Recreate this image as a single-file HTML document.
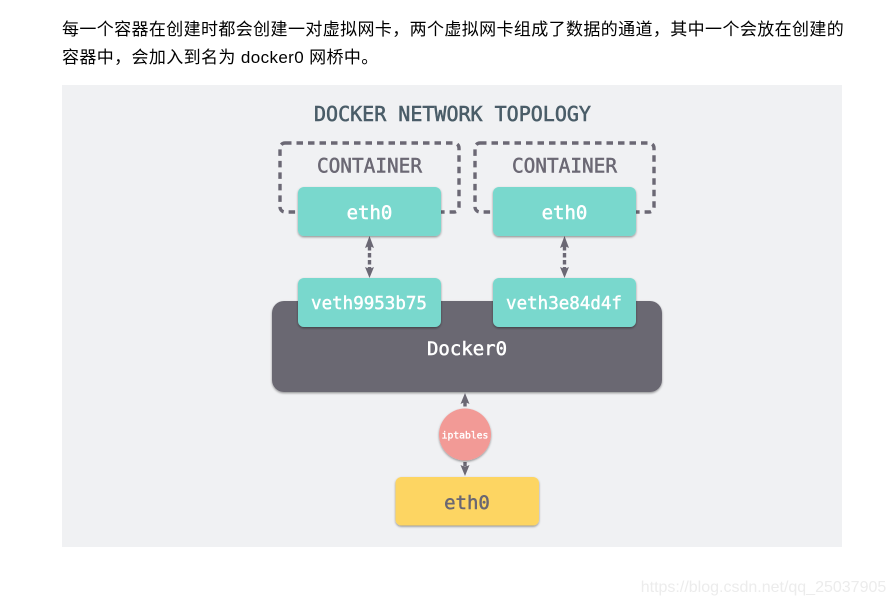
<!DOCTYPE html>
<html><head><meta charset="utf-8">
<style>
html,body{margin:0;padding:0;background:#fff;width:894px;height:605px;overflow:hidden}
.t{position:absolute;left:62px;white-space:nowrap;font-family:"Liberation Sans","Noto Sans CJK SC",sans-serif;font-size:17px;color:#000;line-height:28px;letter-spacing:.38px}
svg{position:absolute;left:0;top:0}
text{font-family:"DejaVu Sans Mono",monospace;text-anchor:middle}
</style></head><body>
<div class="t" style="top:16px">每一个容器在创建时都会创建一对虚拟网卡，两个虚拟网卡组成了数据的通道，其中一个会放在创建的</div>
<div class="t" style="top:44px">容器中，会加入到名为 docker0 网桥中。</div>
<svg width="894" height="605" viewBox="0 0 894 605">
<defs>
<filter id="s" x="-10%" y="-10%" width="120%" height="125%"><feDropShadow dx="0" dy="1.2" stdDeviation="1" flood-color="#000" flood-opacity=".4"/></filter>
</defs>
<rect x="62" y="85" width="780" height="462" fill="#f0f1f3"/>
<text x="452.500" y="121" font-size="20" fill="#4a5d68" stroke="#4a5d68" stroke-width=".55">DOCKER NETWORK TOPOLOGY</text>
<g fill="none" stroke="#6b6874" stroke-width="3.400" stroke-dasharray="6.500 5">
<rect x="280" y="143" width="179" height="69" rx="5"/>
<rect x="475" y="143" width="179" height="69" rx="5"/>
</g>
<text x="369.500" y="172.500" font-size="19.400" fill="#6b6874" stroke="#6b6874" stroke-width=".5">CONTAINER</text>
<text x="564.500" y="172.500" font-size="19.400" fill="#6b6874" stroke="#6b6874" stroke-width=".5">CONTAINER</text>

<g stroke="#6b6874" stroke-width="3.400" stroke-dasharray="4.500 2.500" fill="none">
<line x1="369.500" y1="246" x2="369.500" y2="270"/>
<line x1="564.500" y1="246" x2="564.500" y2="270"/>
<line x1="465" y1="402" x2="465" y2="408"/>
<line x1="465" y1="462" x2="465" y2="468"/>
</g>
<g fill="#6b6874">
<polygon points="369.500,236 374,248 369.500,246 365,248"/>
<polygon points="369.500,278 374,267 369.500,269 365,267"/>
<polygon points="564.500,236 569,248 564.500,246 560,248"/>
<polygon points="564.500,278 569,267 564.500,269 560,267"/>
<polygon points="465,393 469.500,404 465,402 460.500,404"/>
<polygon points="465,476 469.500,465 465,467 460.500,465"/>
</g>

<rect x="298" y="187" width="143" height="49" rx="6" fill="#79d8cd" filter="url(#s)"/>
<rect x="493" y="187" width="143" height="49" rx="6" fill="#79d8cd" filter="url(#s)"/>
<text x="369.500" y="219" font-size="19" fill="#fff" stroke="#fff" stroke-width=".5">eth0</text>
<text x="564.500" y="219" font-size="19" fill="#fff" stroke="#fff" stroke-width=".5">eth0</text>

<rect x="272" y="301" width="390" height="91" rx="12" fill="#6a6772" filter="url(#s)"/>
<text x="467" y="355" font-size="19" fill="#fff" stroke="#fff" stroke-width=".5">Docker0</text>

<rect x="298" y="278" width="143" height="49" rx="6" fill="#79d8cd" filter="url(#s)"/>
<rect x="493" y="278" width="143" height="49" rx="6" fill="#79d8cd" filter="url(#s)"/>
<text x="369" y="309" font-size="17.500" fill="#fff" stroke="#fff" stroke-width=".45">veth9953b75</text>
<text x="564" y="309" font-size="17.500" fill="#fff" stroke="#fff" stroke-width=".45">veth3e84d4f</text>

<circle cx="465" cy="434.500" r="26" fill="#f29a96" filter="url(#s)"/>
<text x="465" y="438.500" font-size="9.700" fill="#fff" stroke="#fff" stroke-width=".35">iptables</text>

<rect x="395.500" y="477" width="143.500" height="48.500" rx="6" fill="#fdd562" filter="url(#s)"/>
<text x="467" y="509" font-size="19" fill="#6a6772" stroke="#6a6772" stroke-width=".5">eth0</text>

<text x="763.500" y="592" font-size="16" fill="#ececec" style="font-family:'Liberation Sans',sans-serif">https://blog.csdn.net/qq_25037905</text>
</svg>
</body></html>
